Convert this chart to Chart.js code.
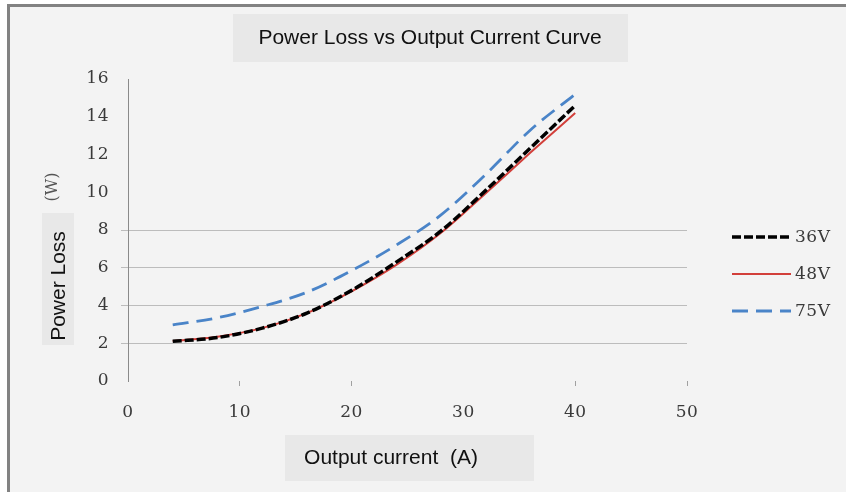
<!DOCTYPE html>
<html>
<head>
<meta charset="utf-8">
<script src="https://cdn.jsdelivr.net/npm/chart.js@4.4.1/dist/chart.umd.min.js"></script>
<style>
html,body{margin:0;padding:0;background:#fff;}
#wrap{width:846px;height:492px;position:relative;}
</style>
</head>
<body>
<div id="wrap"><canvas id="c" width="846" height="492"></canvas></div>
<script>
const currents = [4, 8, 12, 16, 20, 24, 28, 32, 36, 40];
const loss36V = [2.1, 2.3, 2.8, 3.6, 4.8, 6.3, 7.95, 10.1, 12.35, 14.6];
const loss48V = [2.12, 2.35, 2.8, 3.6, 4.75, 6.15, 7.85, 9.95, 12.1, 14.2];
const loss75V = [2.97, 3.35, 3.95, 4.7, 5.85, 7.2, 8.8, 10.95, 13.3, 15.2];
const seriesNames = ['36V', '48V', '75V'];
const yTicks = [0, 2, 4, 6, 8, 10, 12, 14, 16];
const xTicks = [0, 10, 20, 30, 40, 50];
const chartTitle = 'Power Loss vs Output Current Curve';
const xTitle = 'Output current  (A)';
const yTitle = 'Power Loss';
const yUnit = '(W)';

const toPts = (arr) => currents.map((x, i) => ({x: x, y: arr[i]}));

const styles = [
  {color: '#000000', width: 3.5, dash: [9, 3]},
  {color: '#d23f3a', width: 2, dash: []},
  {color: '#4a84c8', width: 2.8, dash: [16, 8]}
];
const seriesData = [loss36V, loss48V, loss75V];

const frame = {
  id: 'frame',
  beforeDraw(chart) {
    const ctx = chart.ctx;
    ctx.save();
    ctx.fillStyle = '#ffffff';
    ctx.fillRect(0, 0, chart.width, chart.height);
    ctx.fillStyle = '#f3f3f3';
    ctx.fillRect(7, 4, chart.width - 7, chart.height - 4);
    ctx.fillStyle = '#828282';
    ctx.fillRect(7, 4, 3, chart.height - 4);
    ctx.fillRect(7, 4, chart.width - 7, 3);
    ctx.fillStyle = '#e8e8e8';
    ctx.fillRect(233, 14, 395, 48);
    ctx.fillRect(285, 435, 249, 46);
    ctx.fillRect(42, 213, 32, 132);
    ctx.fillStyle = '#111';
    ctx.font = '21px "Liberation Sans", Arial, sans-serif';
    ctx.textAlign = 'center';
    ctx.textBaseline = 'middle';
    ctx.fillText(chartTitle, 430, 38);
    ctx.fillText(xTitle, 391, 458);
    ctx.translate(59, 286);
    ctx.rotate(-Math.PI / 2);
    ctx.fillText(yTitle, 0, 0);
    ctx.restore();
    ctx.save();
    ctx.translate(53, 187);
    ctx.rotate(-Math.PI / 2);
    ctx.fillStyle = '#555';
    ctx.font = '16px "DejaVu Serif", serif';
    ctx.textAlign = 'center';
    ctx.textBaseline = 'middle';
    ctx.fillText(yUnit, 0, 0);
    ctx.restore();
    ctx.letterSpacing = '0.5px';
  },
  afterDraw(chart) {
    const ctx = chart.ctx;
    ctx.save();
    const ys = [237, 274, 311];
    chart.data.datasets.forEach((ds, i) => {
      ctx.beginPath();
      ctx.strokeStyle = ds.borderColor;
      ctx.lineWidth = ds.borderWidth;
      ctx.setLineDash(ds.borderDash || []);
      ctx.moveTo(732, ys[i]);
      ctx.lineTo(791, ys[i]);
      ctx.stroke();
      ctx.setLineDash([]);
      ctx.fillStyle = '#3a3a3a';
      ctx.font = '17px "DejaVu Serif", serif';
      ctx.letterSpacing = '0.5px';
      ctx.textAlign = 'left';
      ctx.textBaseline = 'middle';
      ctx.fillText(ds.label, 795, ys[i] + 1);
    });
    ctx.restore();
    ctx.letterSpacing = '0px';
  }
};

new Chart(document.getElementById('c'), {
  type: 'line',
  data: {
    datasets: seriesNames.map((name, i) => ({
      label: name,
      data: toPts(seriesData[i]),
      borderColor: styles[i].color,
      borderWidth: styles[i].width,
      borderDash: styles[i].dash,
      pointRadius: 0,
      fill: false,
      cubicInterpolationMode: 'monotone'
    }))
  },
  options: {
    responsive: false,
    animation: false,
    devicePixelRatio: 1,
    layout: {padding: {left: 0, top: 79, right: 159, bottom: 0}},
    plugins: {legend: {display: false}, title: {display: false}, tooltip: {enabled: false}},
    scales: {
      x: {
        type: 'linear', min: 0, max: 50,
        afterBuildTicks(s) { s.ticks = xTicks.map(v => ({value: v})); },
        afterFit(s) { s.height = 111; },
        border: {display: false},
        grid: {
          drawOnChartArea: false, drawTicks: true, tickLength: 5,
          color: (c) => (c.tick && (c.tick.value === 0 || c.tick.value === 30)) ? 'rgba(0,0,0,0)' : '#a0a0a0'
        },
        ticks: {color: '#3a3a3a', font: {family: '"DejaVu Serif", serif', size: 17}, padding: 16, maxRotation: 0}
      },
      y: {
        type: 'linear', min: 0, max: 16,
        afterBuildTicks(s) { s.ticks = yTicks.map(v => ({value: v})); },
        afterFit(s) { s.width = 128; },
        border: {display: true, color: '#8a8a8a', width: 1},
        grid: {
          drawTicks: true, tickLength: 7,
          color: (c) => (c.tick && c.tick.value >= 2 && c.tick.value <= 8) ? '#bcbcbc' : 'rgba(0,0,0,0)'
        },
        ticks: {color: '#3a3a3a', font: {family: '"DejaVu Serif", serif', size: 17}, padding: 12}
      }
    }
  },
  plugins: [frame]
});
</script>
</body>
</html>
